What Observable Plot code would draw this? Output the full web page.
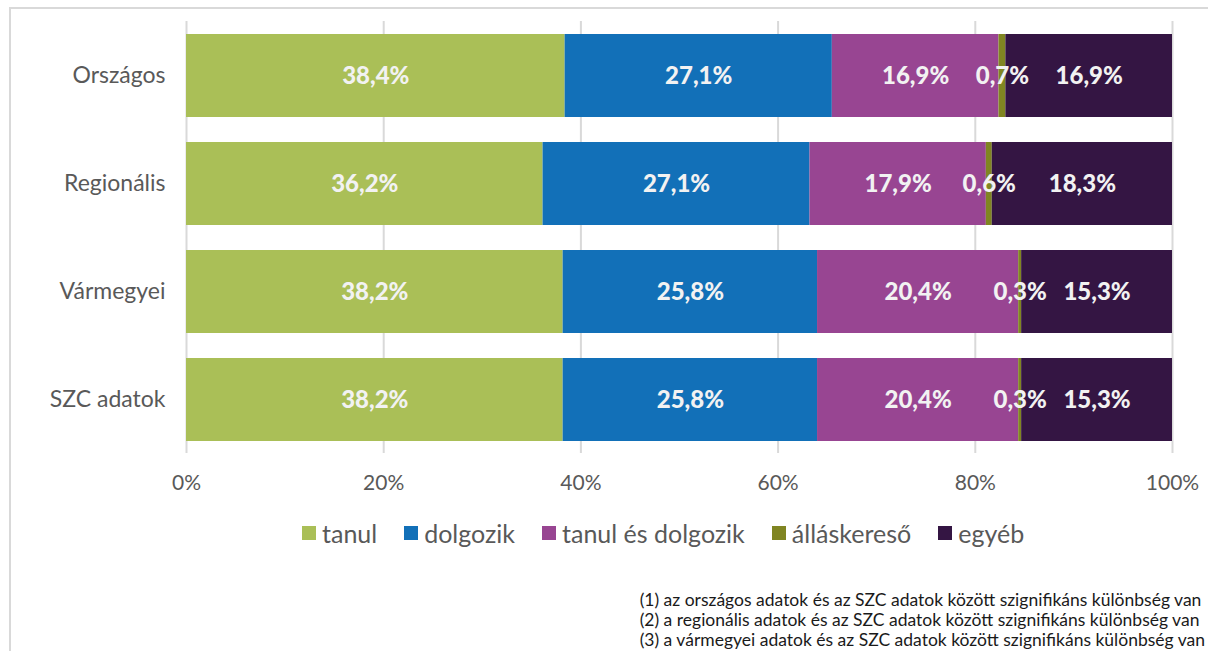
<!DOCTYPE html>
<html><head><meta charset="utf-8">
<script src="https://cdn.jsdelivr.net/npm/d3@7"></script>
<script src="https://cdn.jsdelivr.net/npm/@observablehq/plot@0.6"></script>
<style>
html,body{margin:0;padding:0;background:#fff;}
body{width:1208px;height:651px;overflow:hidden;position:relative;font-family:Lato,"Open Sans",sans-serif;}
#frame{position:absolute;left:9px;top:7px;width:1220px;height:700px;border:2px solid #d9d9d9;box-sizing:border-box;}
#chart{position:absolute;left:0;top:0;}
#legend{position:absolute;top:518px;left:302px;display:flex;align-items:center;font-size:25px;color:#595959;white-space:nowrap;}
#legend .item{display:flex;align-items:center;margin-right:27px;}
#legend .sw{width:14px;height:14px;margin-right:6px;}
#notes{position:absolute;right:3px;top:590px;font-size:17.5px;color:#1a1a1a;line-height:20px;text-align:left;white-space:nowrap;}
</style></head>
<body>
<div id="frame"></div>
<div id="chart"></div>
<div id="legend"></div>
<div id="notes"></div>
<script>
const categories = ["Országos", "Regionális", "Vármegyei", "SZC adatok"];
const seriesNames = ["tanul", "dolgozik", "tanul és dolgozik", "álláskereső", "egyéb"];
const seriesColors = ["#aabf57", "#1270b8", "#984592", "#808522", "#341543"];
const tanul = [38.4, 36.2, 38.2, 38.2];
const dolgozik = [27.1, 27.1, 25.8, 25.8];
const tanulEsDolgozik = [16.9, 17.9, 20.4, 20.4];
const allaskereso = [0.7, 0.6, 0.3, 0.3];
const egyeb = [16.9, 18.3, 15.3, 15.3];
const xTicks = [0, 0.2, 0.4, 0.6, 0.8, 1];
const footnotes = [
  "(1) az országos adatok és az SZC adatok között szignifikáns különbség van",
  "(2) a regionális adatok és az SZC adatok között szignifikáns különbség van",
  "(3) a vármegyei adatok és az SZC adatok között szignifikáns különbség van"
];

const seriesValues = [tanul, dolgozik, tanulEsDolgozik, allaskereso, egyeb];
const data = [];
categories.forEach((c, i) => {
  seriesNames.forEach((s, j) => data.push({cat: c, series: s, value: seriesValues[j][i]}));
});
const fmt = v => v.toFixed(1).replace(".", ",") + "%";

const chart = Plot.plot({
  width: 1208,
  height: 505,
  marginLeft: 186,
  marginRight: 36,
  marginTop: 21,
  marginBottom: 52,
  style: {fontFamily: "Lato, 'Open Sans', sans-serif", background: "transparent"},
  x: {domain: [0, 1], ticks: xTicks, tickFormat: d3.format(".0%"), label: null, tickSize: 0, tickPadding: 22},
  y: {domain: categories, label: null, paddingInner: 0.234, paddingOuter: 0.111, tickSize: 0, tickPadding: 21},
  color: {domain: seriesNames, range: seriesColors},
  marks: [
    Plot.ruleX(xTicks, {stroke: "#d9d9d9", strokeWidth: 2}),
    Plot.barX(data, Plot.stackX({offset: "normalize", order: null}, {x: "value", y: "cat", z: "series", fill: "series"})),
    Plot.text(data, Plot.stackX({offset: "normalize", order: null}, {x: "value", y: "cat", z: "series", text: d => fmt(d.value), fill: "#f2f2f2", fontSize: 24, fontWeight: 900})),
    Plot.axisX({ticks: xTicks, tickFormat: d3.format(".0%"), tickSize: 0, tickPadding: 22, fontSize: 21, color: "#595959", label: null}),
    Plot.axisY({tickSize: 0, tickPadding: 21, fontSize: 23, color: "#595959", label: null})
  ]
});
chart.querySelectorAll("g[aria-label='x-axis tick label'] text, g[aria-label='y-axis tick label'] text").forEach(t => t.setAttribute("fill", "#595959"));
document.getElementById("chart").appendChild(chart);

const legend = document.getElementById("legend");
seriesNames.forEach((s, j) => {
  const it = document.createElement("div");
  it.className = "item";
  it.innerHTML = `<div class="sw" style="background:${seriesColors[j]}"></div><span>${s}</span>`;
  legend.appendChild(it);
});
const notes = document.getElementById("notes");
footnotes.forEach(f => { const d = document.createElement("div"); d.textContent = f; notes.appendChild(d); });
</script>
</body></html>
